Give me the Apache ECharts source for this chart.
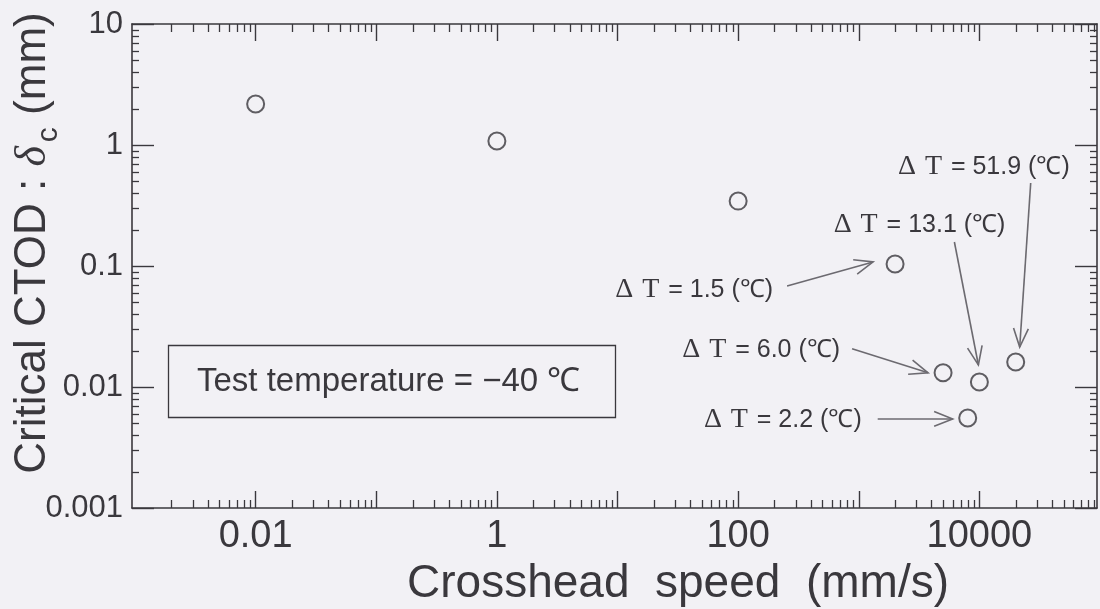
<!DOCTYPE html>
<html>
<head>
<meta charset="utf-8">
<script src="https://cdn.jsdelivr.net/npm/echarts@6/dist/echarts.min.js"></script>
<style>
  html, body { margin: 0; padding: 0; background: #f2f1f5; }
  #chart { width: 1100px; height: 609px; }
</style>
</head>
<body>
<div id="chart"></div>
<script>
// Crosshead speed (mm/s) and critical CTOD (mm) of each test
const speeds = [0.01, 1, 100, 2000, 5000, 10000, 20000, 8000];
const ctods  = [2.18, 1.08, 0.344, 0.104, 0.0131, 0.011, 0.0161, 0.00555];
// Temperature rise written beside the high-rate tests (null where none is given)
const deltaT = [null, null, null, '1.5', '6.0', '13.1', '51.9', '2.2'];
// Labelled decades on each axis
const xTickLabels = ['0.01', '1', '100', '10000'];
const yTickLabels = ['0.001', '0.01', '0.1', '1', '10'];

// The speed axis runs from just under 1e-3 to just under 1e5
const X_MIN = Math.pow(10, -3.025), X_MAX = Math.pow(10, 4.975);
const Y_MIN = 0.001, Y_MAX = 10;
const INK = '#3a383d';
const ARROW = '#6c6a70';
const SANS = '"Liberation Sans", Arial, Helvetica, sans-serif';
const SERIF = '"Liberation Serif", "Times New Roman", serif';

// Callout placement for each annotated test, in pixels relative to its marker
const callouts = {
  3: { text: [-122, 26],  from: [-108, 22],  to: [-22, -2] },
  4: { text: [-103, -23], from: [-91, -24],  to: [-15, 0] },
  5: { text: [26, -157],  from: [-25, -140], to: [-1, -17] },
  6: { text: [54, -195],  from: [15, -179],  to: [4, -15] },
  7: { text: [-106, 2],   from: [-90, 1],    to: [-15, 1] }
};

// Decades strictly inside the axis range (a decade sitting on the frame is left to the frame line)
function decades(lo, hi, inclusive) {
  const out = [];
  const a = Math.log10(lo), b = Math.log10(hi);
  for (let e = Math.ceil(a - 1e-9); e <= Math.floor(b + 1e-9); e++) {
    if (!inclusive && (e - a < 0.05 || b - e < 0.05) && !(Math.abs(e - a) < 1e-9 || Math.abs(e - b) < 1e-9)) continue;
    out.push(Math.pow(10, e));
  }
  return out;
}
function minorValues(lo, hi) {
  const out = [];
  for (let e = Math.floor(Math.log10(lo)); e <= Math.floor(Math.log10(hi)); e++) {
    for (let k = 2; k <= 9; k++) {
      const v = k * Math.pow(10, e);
      if (v > lo && v < hi) out.push(v);
    }
  }
  return out;
}
function labelFor(list) {
  return function (v) {
    const e = Math.round(Math.log10(v));
    const s = String(Math.pow(10, e));
    return list.indexOf(s) >= 0 ? s : '';
  };
}

const xMajors = decades(X_MIN, X_MAX, false);
const yMajors = decades(Y_MIN, Y_MAX, true);
const minorData = minorValues(X_MIN, X_MAX).map(v => [v, 1, 0])
  .concat(minorValues(Y_MIN, Y_MAX).map(v => [1, v, 1]));

function renderMinorTick(params, api) {
  const cs = params.coordSys;
  const p = api.coord([api.value(0), api.value(1)]);
  const st = { stroke: INK, lineWidth: 1.3 };
  if (api.value(2) === 0) {
    const x = Math.round(p[0]) + 0.5;
    return { type: 'group', children: [
      { type: 'line', shape: { x1: x, y1: cs.y + cs.height, x2: x, y2: cs.y + cs.height - 8 }, style: st },
      { type: 'line', shape: { x1: x, y1: cs.y, x2: x, y2: cs.y + 8 }, style: st }
    ]};
  }
  const y = Math.round(p[1]) + 0.5;
  return { type: 'group', children: [
    { type: 'line', shape: { x1: cs.x, y1: y, x2: cs.x + 7, y2: y }, style: st },
    { type: 'line', shape: { x1: cs.x + cs.width, y1: y, x2: cs.x + cs.width - 7, y2: y }, style: st }
  ]};
}

function renderCallout(params, api) {
  const idx = api.value(2);
  const c = callouts[idx];
  const p = api.coord([api.value(0), api.value(1)]);
  const x1 = p[0] + c.from[0], y1 = p[1] + c.from[1];
  const x2 = p[0] + c.to[0],   y2 = p[1] + c.to[1];
  const ang = Math.atan2(y2 - y1, x2 - x1);
  const headLen = 20, spread = 0.38;
  const lineStyle = { stroke: ARROW, lineWidth: 1.6, fill: null };
  return { type: 'group', children: [
    { type: 'line', shape: { x1: x1, y1: y1, x2: x2, y2: y2 }, style: lineStyle },
    { type: 'polyline', shape: { points: [
        [x2 - headLen * Math.cos(ang - spread), y2 - headLen * Math.sin(ang - spread)],
        [x2, y2],
        [x2 - headLen * Math.cos(ang + spread), y2 - headLen * Math.sin(ang + spread)]
      ] }, style: lineStyle },
    { type: 'text', x: p[0] + c.text[0], y: p[1] + c.text[1], style: {
        text: '{s|Δ}{g| }{s|T}{g| }{n|= ' + deltaT[idx] + ' (℃)}',
        align: 'right', verticalAlign: 'middle', fill: INK,
        fontFamily: SANS, fontSize: 25,
        rich: {
          s: { fontFamily: SERIF, fontSize: 28, fill: INK },
          g: { fontFamily: SANS, fontSize: 32 },
          n: { fontFamily: SANS, fontSize: 25, fill: INK }
        }
      } }
  ]};
}

const chart = echarts.init(document.getElementById('chart'), null, { renderer: 'canvas' });

const axisLine = { show: true, lineStyle: { color: INK, width: 1.6 } };

chart.setOption({
  backgroundColor: '#f2f1f5',
  animation: false,
  grid: { left: 132, right: 3, top: 24, bottom: 101, containLabel: false },
  xAxis: [
    {
      type: 'log', logBase: 10, min: X_MIN, max: X_MAX, position: 'bottom',
      axisLine: axisLine,
      axisTick: { show: true, inside: true, length: 17, customValues: xMajors, lineStyle: { color: INK, width: 1.4 } },
      axisLabel: { customValues: xTickLabels.map(Number), formatter: labelFor(xTickLabels),
                   color: INK, fontFamily: SANS, fontSize: 38, margin: 10 },
      splitLine: { show: false }, minorTick: { show: false }
    },
    {
      type: 'log', logBase: 10, min: X_MIN, max: X_MAX, position: 'top',
      axisLine: axisLine,
      axisTick: { show: true, inside: true, length: 17, customValues: xMajors, lineStyle: { color: INK, width: 1.4 } },
      axisLabel: { show: false }, splitLine: { show: false }
    }
  ],
  yAxis: [
    {
      type: 'log', logBase: 10, min: Y_MIN, max: Y_MAX, position: 'left',
      axisLine: axisLine,
      axisTick: { show: true, inside: true, length: 22, customValues: yMajors, lineStyle: { color: INK, width: 1.4 } },
      axisLabel: { customValues: yTickLabels.map(Number), formatter: labelFor(yTickLabels),
                   color: INK, fontFamily: SANS, fontSize: 31, margin: 9 },
      splitLine: { show: false }
    },
    {
      type: 'log', logBase: 10, min: Y_MIN, max: Y_MAX, position: 'right',
      axisLine: axisLine,
      axisTick: { show: true, inside: true, length: 22, customValues: yMajors, lineStyle: { color: INK, width: 1.4 } },
      axisLabel: { show: false }, splitLine: { show: false }
    }
  ],
  series: [
    {
      type: 'custom', name: 'minor ticks', silent: true, clip: false,
      xAxisIndex: 0, yAxisIndex: 0,
      encode: { x: 0, y: 1 },
      renderItem: renderMinorTick,
      data: minorData
    },
    {
      type: 'scatter', name: 'CTOD', xAxisIndex: 0, yAxisIndex: 0,
      symbol: 'circle', symbolSize: 17,
      itemStyle: { color: 'rgba(0,0,0,0)', borderColor: INK, borderWidth: 2 },
      data: speeds.map((s, i) => [s, ctods[i]]),
      z: 5
    },
    {
      type: 'custom', name: 'callouts', silent: true, clip: false,
      xAxisIndex: 0, yAxisIndex: 0,
      encode: { x: 0, y: 1 },
      renderItem: renderCallout,
      data: speeds.map((s, i) => [s, ctods[i], i]).filter(d => deltaT[d[2]] !== null),
      z: 4
    }
  ],
  graphic: [
    {
      type: 'rect', shape: { x: 168.5, y: 345.5, width: 447, height: 72 },
      style: { fill: null, stroke: INK, lineWidth: 1.3 }
    },
    {
      type: 'text', x: 197, y: 382,
      style: { text: 'Test temperature = −40 ℃', fontFamily: SANS, fontSize: 33,
               fill: INK, verticalAlign: 'middle', align: 'left' }
    },
    {
      type: 'text', x: 678, y: 584,
      style: { text: 'Crosshead  speed  (mm/s)', fontFamily: SANS, fontSize: 46,
               fill: INK, align: 'center', verticalAlign: 'middle' }
    },
    {
      type: 'text', x: 33, y: 243, rotation: Math.PI / 2,
      style: {
        text: '{a|Critical CTOD : }{d|δ}{b| }{c|c}{a| (mm)}',
        align: 'center', verticalAlign: 'middle', fill: INK,
        rich: {
          a: { fontFamily: SANS, fontSize: 44, fill: INK, lineHeight: 50, verticalAlign: 'middle' },
          d: { fontFamily: SERIF, fontStyle: 'italic', fontSize: 44, fill: INK, lineHeight: 50, verticalAlign: 'middle' },
          b: { fontFamily: SANS, fontSize: 14, lineHeight: 50 },
          c: { fontFamily: SANS, fontSize: 30, fill: INK, lineHeight: 62, verticalAlign: 'bottom' }
        }
      }
    }
  ]
});
</script>
</body>
</html>
